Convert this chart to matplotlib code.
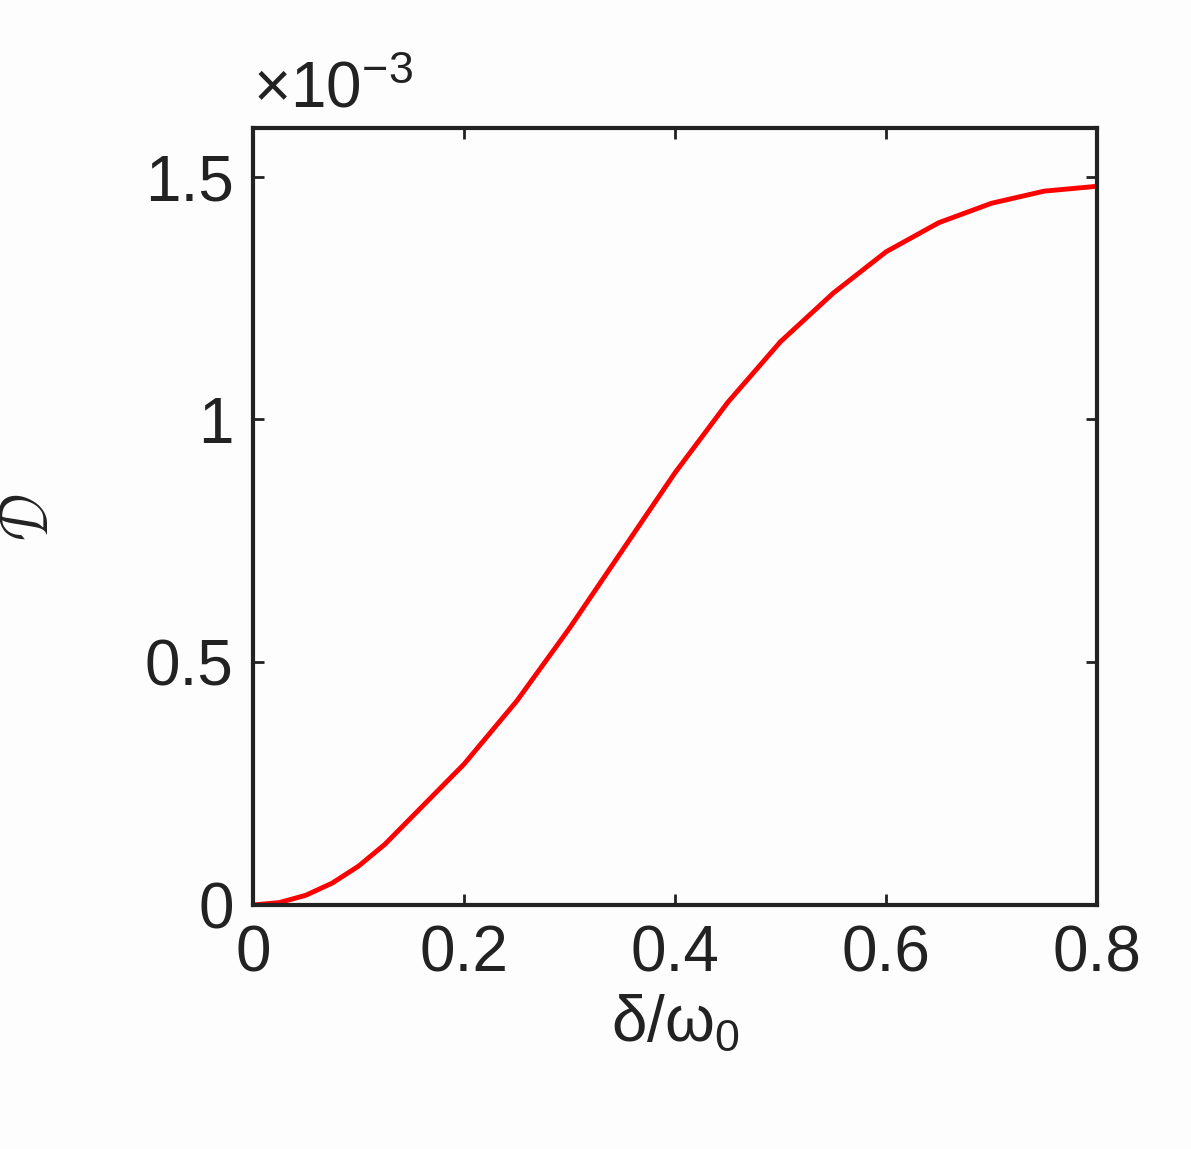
import matplotlib
matplotlib.use("Agg")
import matplotlib.pyplot as plt
from matplotlib.ticker import FuncFormatter

plt.rcParams['font.family'] = ['Liberation Sans', 'DejaVu Sans']
plt.rcParams['mathtext.fontset'] = 'custom'
plt.rcParams['mathtext.rm'] = 'Liberation Sans'

x = [0, 0.025, 0.05, 0.075, 0.1, 0.125, 0.15, 0.2, 0.25, 0.3, 0.35, 0.4, 0.45, 0.5, 0.55, 0.6, 0.65, 0.7, 0.75, 0.8]
D = [0, 0.005, 0.02, 0.045, 0.08, 0.125, 0.18, 0.29, 0.42, 0.57, 0.73, 0.89, 1.035, 1.16, 1.26, 1.345, 1.405, 1.445, 1.47, 1.48]
xticks = [0, 0.2, 0.4, 0.6, 0.8]
yticks = [0, 0.5, 1, 1.5]

fig = plt.figure(figsize=(11.91, 11.49), dpi=100)
fig.patch.set_facecolor("#fdfdfd")
ax = fig.add_axes([253/1191, 1 - 905/1149, (1097-253)/1191, (905-128)/1149])
ax.set_facecolor("#fdfdfd")
ax.plot(x, D, color="red", lw=3.5, solid_joinstyle="round")
ax.set_xlim(0, 0.8)
ax.set_ylim(0, 1.6)
ax.set_xticks(xticks)
ax.set_yticks(yticks)
ax.xaxis.set_major_formatter(FuncFormatter(lambda v, p: f"{v:g}"))
ax.yaxis.set_major_formatter(FuncFormatter(lambda v, p: f"{v:g}"))
ax.tick_params(direction="in", length=8, width=2, labelsize=46, top=True, right=True, pad=14, colors="#222222")
for s in ax.spines.values():
    s.set_linewidth(3)
    s.set_color("#222222")
ax.set_xlabel(r"δ/ω$_0$", fontsize=46, labelpad=6, color="#222222")
ax.set_ylabel(r"$\mathcal{D}$", fontsize=46, labelpad=60, color="#222222")
ax.text(0.0, 1.01, r"$\times$10$^{-3}$", transform=ax.transAxes, fontsize=46, va="bottom", ha="left", color="#222222")
fig.savefig("out.png", dpi=100, facecolor=fig.get_facecolor())
